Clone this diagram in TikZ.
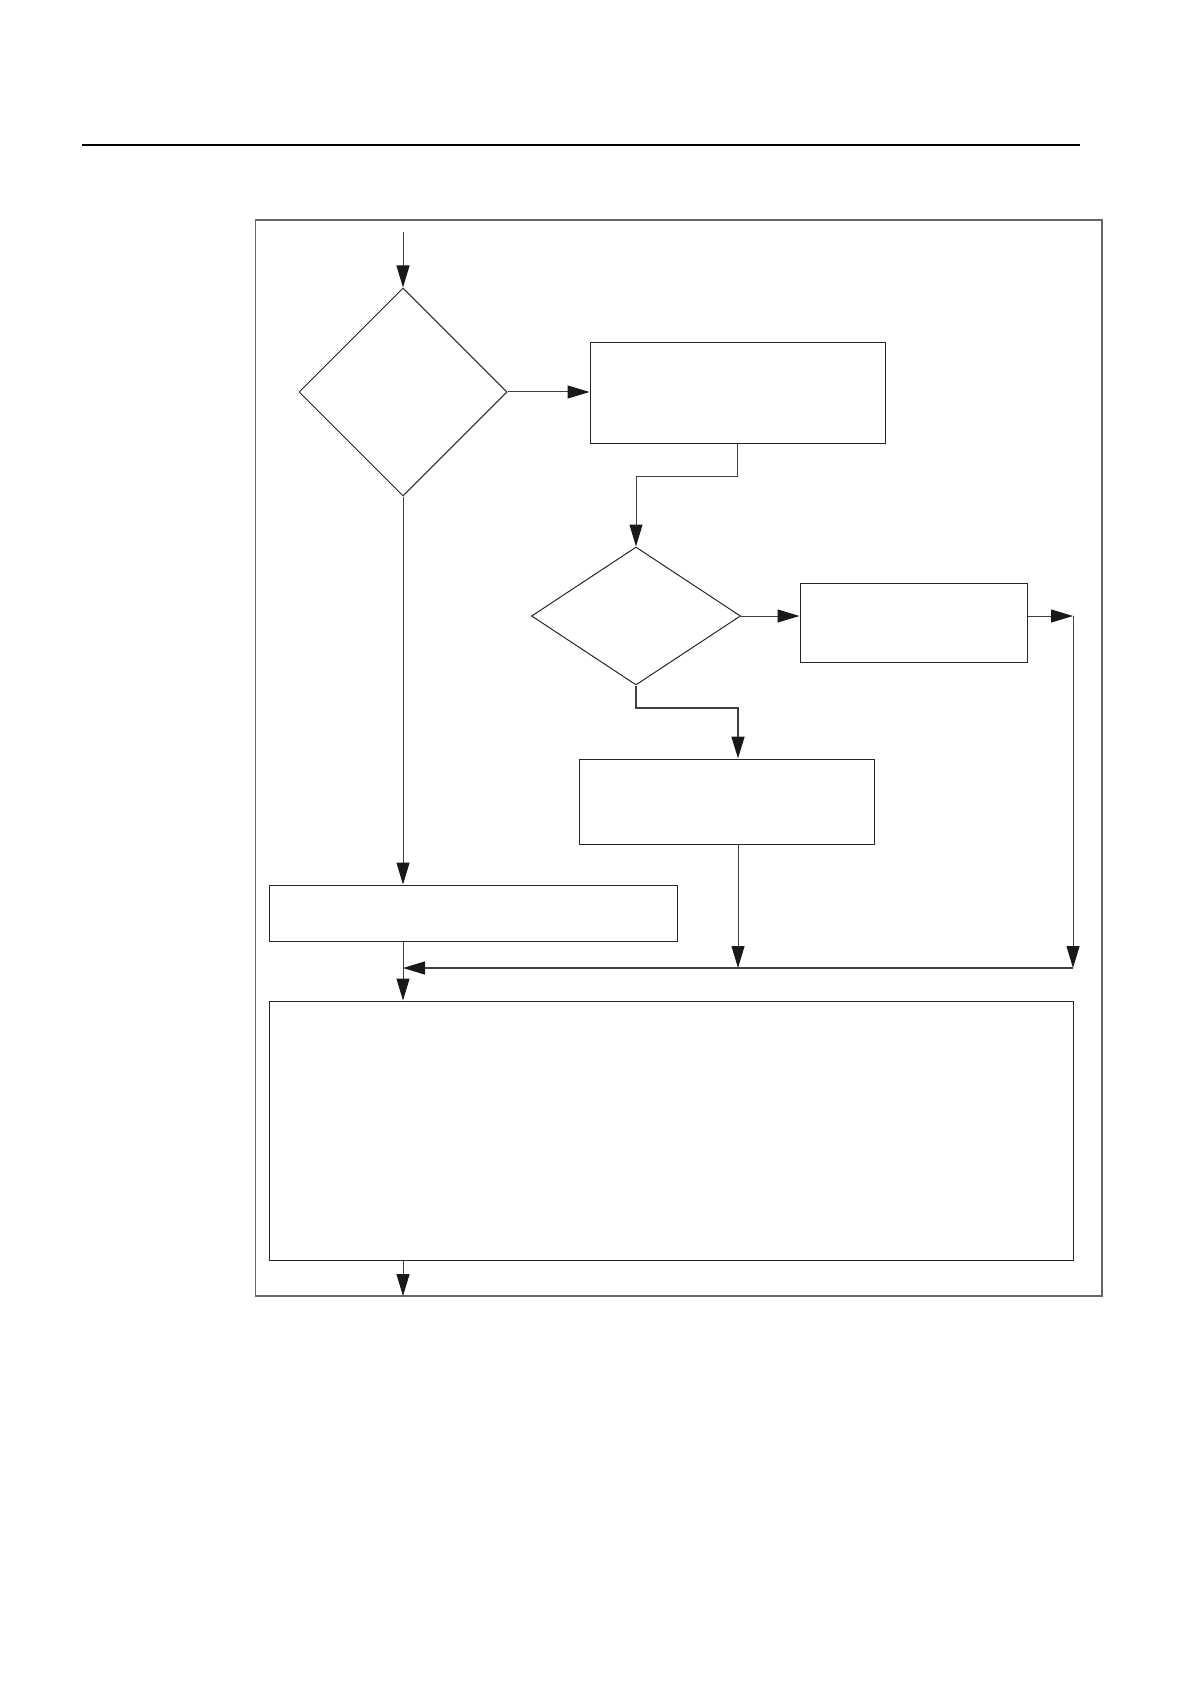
\documentclass[tikz,border=0pt]{standalone}
\usepackage{tikz}
\usetikzlibrary{shapes.geometric,arrows.meta}

\begin{document}
\begin{tikzpicture}[x=0.5pt,y=-0.5pt,
     >={Triangle[length=11pt,width=6.5pt,color=black!90]},
     blk/.style={draw=black!85,rectangle,line width=0.5pt,inner sep=0pt},
     dec/.style={draw=black!85,diamond,line width=0.5pt,inner sep=0pt},
     link/.style={draw=black!75,line width=0.5pt}
     ]
   \useasboundingbox (0,0) rectangle (1190,1684);

   % page rule and outer frame
   \draw[line width=0.75pt] (82,145) -- (1080,145);
   \draw[draw=black!60,line width=0.8pt] (255.5,220) rectangle (1102,1296);

   % decisions and blocks, placed at coordinates
   \node[dec,minimum width=104pt,minimum height=104pt] (d1) at (403,392) {};
   \node[blk,minimum width=147.5pt,minimum height=50.5pt] (b1) at (737.5,393.5) {};
   \node[dec,minimum width=104.5pt,minimum height=69pt] (d2) at (636,616) {};
   \node[blk,minimum width=113.5pt,minimum height=39.5pt] (b2) at (913.5,622.5) {};
   \node[blk,minimum width=147.5pt,minimum height=42.5pt] (b3) at (727,801.5) {};
   \node[blk,minimum width=204pt,minimum height=28pt] (b4) at (473,913) {};
   \node[blk,minimum width=402pt,minimum height=129.5pt] (b5) at (671,1130.5) {};

   % free ends and bends of the connectors
   \coordinate (in) at (403,232);
   \coordinate (out) at (403,1296);
   \coordinate (k1) at (737.5,476);
   \coordinate (k2) at (738,708);
   \coordinate (r1) at (1073,616);
   \coordinate (r2) at (1073,968);
   \coordinate (m2) at (738,968);
   \coordinate (m1) at (403,968);

   \draw[link,->] (in) -- (d1.north);
   \draw[link,->] (d1.east) -- (d1.east -| b1.west);
   \draw[link,->] (b1.south) -- (k1) -| (d2.north);
   \draw[link,->] (d2.east) -- (d2.east -| b2.west);
   \draw[link,->] (b2.east |- r1) -- (r1);
   \draw[link,->] (r1) -- (r2);
   \draw[link,line width=0.8pt,->] (d2.south) |- (k2) -- (k2 |- b3.north);
   \draw[link,->] (k2 |- b3.south) -- (m2);
   \draw[link,line width=0.6pt,->] (r2) -- (m1);
   \draw[link,->] (d1.south) -- (d1.south |- b4.north);
   \draw[link,->] (d1.south |- b4.south) -- (d1.south |- b5.north);
   \draw[link,->] (d1.south |- b5.south) -- (out);
\end{tikzpicture}
\end{document}
